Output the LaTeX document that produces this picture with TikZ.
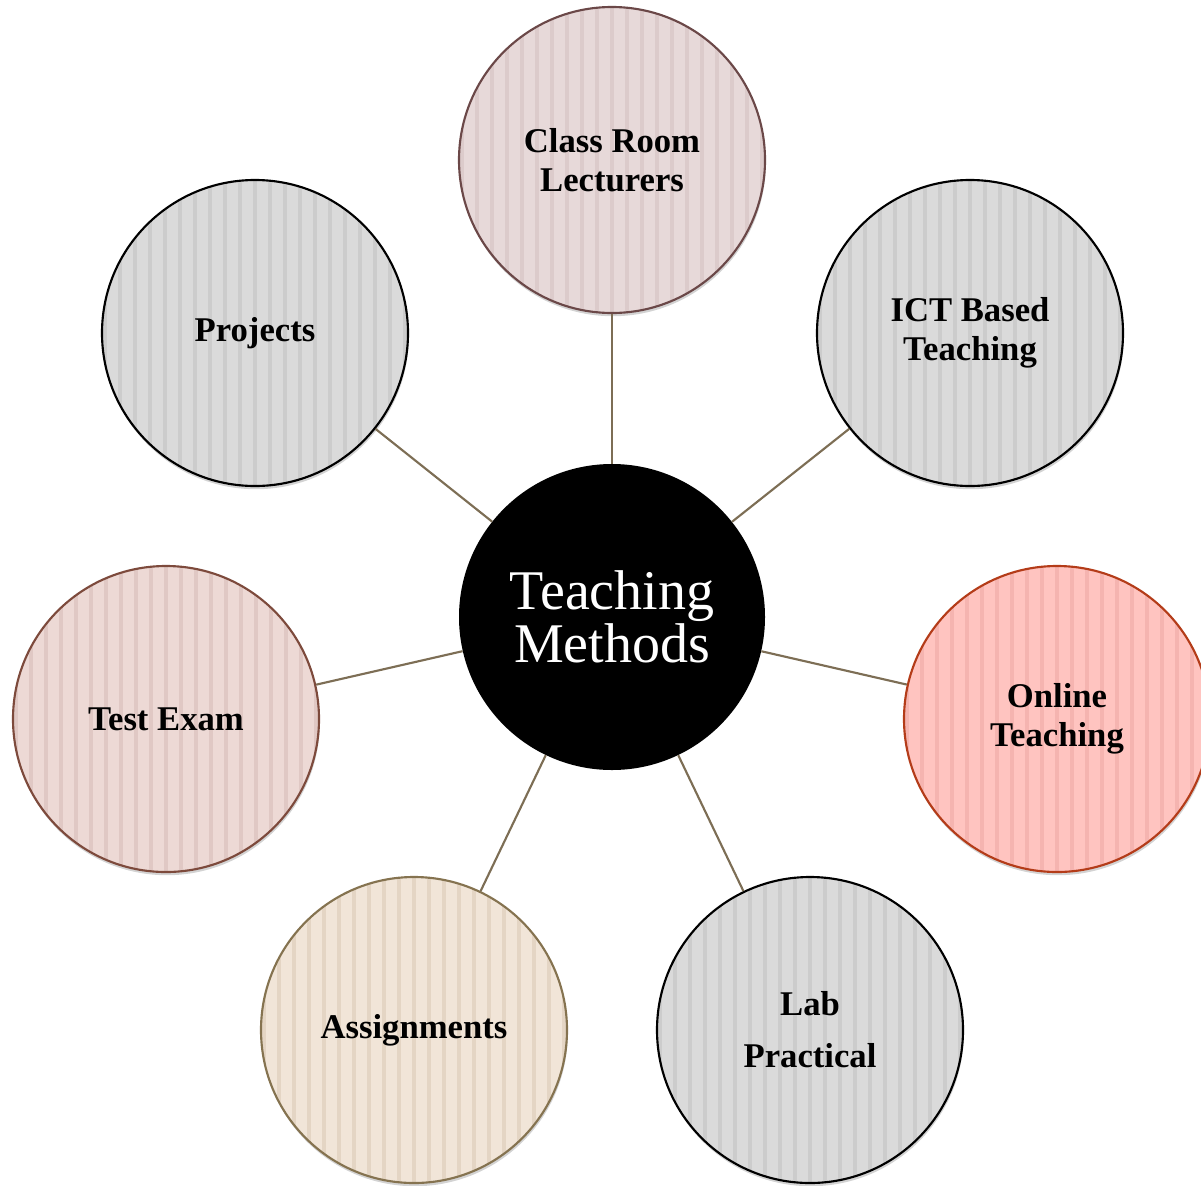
\documentclass[tikz,border=0pt]{standalone}
\usepackage{fontspec}
\setmainfont{Liberation Serif}
\usetikzlibrary{shadows}
\definecolor{linkcol}{RGB}{125,110,85}
\definecolor{classfill}{RGB}{231,217,217}
\definecolor{classstripe}{RGB}{220,203,203}
\definecolor{classline}{RGB}{107,72,72}
\definecolor{greyfill}{RGB}{218,218,218}
\definecolor{greystripe}{RGB}{204,204,204}
\definecolor{onlinefill}{RGB}{255,196,192}
\definecolor{onlinestripe}{RGB}{245,180,176}
\definecolor{onlineline}{RGB}{180,60,25}
\definecolor{testfill}{RGB}{237,217,213}
\definecolor{teststripe}{RGB}{224,200,196}
\definecolor{testline}{RGB}{125,74,60}
\definecolor{assignfill}{RGB}{241,229,216}
\definecolor{assignstripe}{RGB}{228,213,196}
\definecolor{assignline}{RGB}{133,115,80}
\tikzset{
  bubble/.style={circle, minimum size=229.5pt, inner sep=0pt, line width=1.6pt,
    align=center, font=\fontsize{26}{29}\selectfont\bfseries,
    drop shadow={opacity=0.35, shadow xshift=0.6pt, shadow yshift=-2.4pt}},
  stripes/.style={path picture={
    \foreach \k in {-16,...,16}
      \draw[#1, line width=2.8pt]
        ([xshift=\k*11.25pt]path picture bounding box.south) --
        ([xshift=\k*11.25pt]path picture bounding box.north);
  }},
  link/.style={draw=linkcol, line width=1.6pt}
}
\begin{document}
\begin{tikzpicture}[x=0.75pt,y=0.75pt,yscale=-1,xscale=1]
\useasboundingbox (0,0) rectangle (1201,1185);

%Centre
\node[circle, fill=black, minimum size=229.5pt, inner sep=0pt, text=white, align=center,
  font=\fontsize{42}{40}\selectfont] (centre) at (612,617) {Teaching\\Methods};

%Outer bubbles
\node[bubble, fill=classfill, draw=classline, stripes=classstripe] (lecture) at (612,160) {Class Room\\Lecturers};
\node[bubble, fill=greyfill, draw=black, stripes=greystripe] (ict) at (970,333) {ICT Based\\Teaching};
\node[bubble, fill=onlinefill, draw=onlineline, stripes=onlinestripe] (online) at (1057,719) {Online\\Teaching};
\node[bubble, fill=greyfill, draw=black, stripes=greystripe] (lab) at (810,1030) {Lab\\[10pt]Practical};
\node[bubble, fill=assignfill, draw=assignline, stripes=assignstripe] (assign) at (414,1030) {Assignments};
\node[bubble, fill=testfill, draw=testline, stripes=teststripe] (test) at (166,719) {Test Exam};
\node[bubble, fill=greyfill, draw=black, stripes=greystripe] (projects) at (255,333) {Projects};

%Links
\foreach \n in {lecture,ict,online,lab,assign,test,projects}
  \draw[link] (centre) -- (\n);

\end{tikzpicture}
\end{document}
